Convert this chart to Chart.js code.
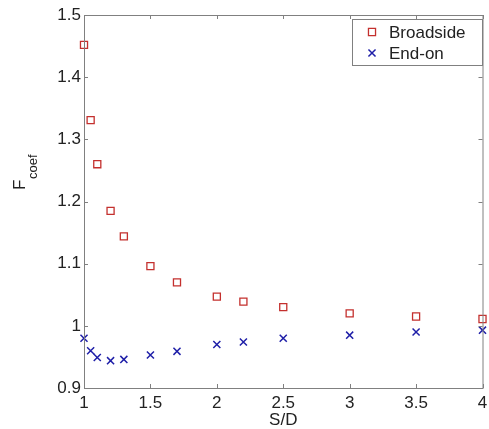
<!DOCTYPE html>
<html>
<head>
<meta charset="utf-8">
<script src="https://cdn.jsdelivr.net/npm/chart.js@4/dist/chart.umd.min.js"></script>
<style>
  body { margin: 0; background: #fff; }
  #wrap { width: 489px; height: 429px; }
</style>
</head>
<body>
<div id="wrap"><canvas id="fcoef" width="489" height="429"></canvas></div>
<script>
// data
const sdValues = [1, 1.05, 1.1, 1.2, 1.3, 1.5, 1.7, 2, 2.2, 2.5, 3, 3.5, 4];
const broadside = [1.452, 1.331, 1.260, 1.185, 1.144, 1.096, 1.070, 1.047, 1.039, 1.030, 1.020, 1.015, 1.011];
const endOn = [0.980, 0.960, 0.949, 0.944, 0.946, 0.953, 0.959, 0.970, 0.974, 0.980, 0.985, 0.990, 0.993];

const xTicks = [1, 1.5, 2, 2.5, 3, 3.5, 4];
const xTickLabels = ['1', '1.5', '2', '2.5', '3', '3.5', '4'];
const yTicks = [0.9, 1, 1.1, 1.2, 1.3, 1.4, 1.5];
const yTickLabels = ['0.9', '1', '1.1', '1.2', '1.3', '1.4', '1.5'];

const FONT = '"Liberation Sans", Arial, sans-serif';
const RED = '#c4302e';
const BLUE = '#1f1fa8';
const AXIS = '#808080';

function pts(ys) {
  return sdValues.map((x, i) => ({ x: x, y: ys[i] }));
}

// box, inward ticks, axis titles and legend
const frame = {
  id: 'frame',
  afterDraw(chart) {
    const ctx = chart.ctx;
    const a = chart.chartArea;
    const xs = chart.scales.x, ys = chart.scales.y;
    ctx.save();
    ctx.strokeStyle = AXIS;
    ctx.lineWidth = 1;
    ctx.strokeRect(a.left + 0.5, a.top + 0.5, a.right - a.left, a.bottom - a.top);
    ctx.beginPath();
    xTicks.forEach(v => {
      const px = Math.round(xs.getPixelForValue(v)) + 0.5;
      ctx.moveTo(px, a.bottom); ctx.lineTo(px, a.bottom - 4);
      ctx.moveTo(px, a.top); ctx.lineTo(px, a.top + 4);
    });
    yTicks.forEach(v => {
      const py = Math.round(ys.getPixelForValue(v)) + 0.5;
      ctx.moveTo(a.left, py); ctx.lineTo(a.left + 4, py);
      ctx.moveTo(a.right, py); ctx.lineTo(a.right - 4, py);
    });
    ctx.stroke();

    // x title
    ctx.fillStyle = '#222';
    ctx.font = '17px ' + FONT;
    ctx.textAlign = 'center';
    ctx.textBaseline = 'alphabetic';
    ctx.fillText('S/D', (a.left + a.right) / 2, 425);

    // y title F_coef
    ctx.save();
    ctx.translate(25, 190);
    ctx.rotate(-Math.PI / 2);
    ctx.textAlign = 'left';
    ctx.font = '17px ' + FONT;
    ctx.fillText('F', 0, 0);
    ctx.font = '13px ' + FONT;
    ctx.fillText('coef', 11, 12);
    ctx.restore();

    // legend
    const lx = 352, ly = 19, lw = 130, lh = 46;
    ctx.fillStyle = '#fff';
    ctx.fillRect(lx, ly, lw, lh);
    ctx.strokeStyle = AXIS;
    ctx.strokeRect(lx + 0.5, ly + 0.5, lw, lh);
    const rows = [
      { label: 'Broadside', y: 32, style: 'rect', color: RED, w: 1.3 },
      { label: 'End-on', y: 53, style: 'crossRot', color: BLUE, w: 1.5 }
    ];
    rows.forEach(r => {
      ctx.strokeStyle = r.color;
      ctx.fillStyle = 'rgba(0,0,0,0)';
      ctx.lineWidth = r.w;
      Chart.helpers.drawPoint(ctx, { pointStyle: r.style, radius: 5, borderWidth: r.w, rotation: 0 }, 372, r.y);
      ctx.fillStyle = '#222';
      ctx.font = '17px ' + FONT;
      ctx.textAlign = 'left';
      ctx.textBaseline = 'middle';
      ctx.fillText(r.label, 389, r.y + 1);
    });
    ctx.restore();
  }
};

new Chart(document.getElementById('fcoef'), {
  type: 'scatter',
  data: {
    datasets: [
      {
        label: 'Broadside',
        data: pts(broadside),
        pointStyle: 'rect',
        pointRadius: 5,
        pointHoverRadius: 5,
        borderColor: RED,
        backgroundColor: 'rgba(0,0,0,0)',
        pointBorderWidth: 1.3,
        clip: false
      },
      {
        label: 'End-on',
        data: pts(endOn),
        pointStyle: 'crossRot',
        pointRadius: 5,
        pointHoverRadius: 5,
        borderColor: BLUE,
        backgroundColor: BLUE,
        pointBorderWidth: 1.5,
        clip: false
      }
    ]
  },
  options: {
    responsive: false,
    animation: false,
    layout: { padding: { top: 15, right: 3, left: 0, bottom: 0 } },
    plugins: { legend: { display: false }, tooltip: { enabled: false } },
    scales: {
      x: {
        type: 'linear',
        min: 1, max: 4,
        afterBuildTicks: s => { s.ticks = xTicks.map(v => ({ value: v })); },
        afterFit: s => { s.height = 41; s.paddingLeft = 0; s.paddingRight = 0; },
        grid: { display: false, drawTicks: false },
        border: { display: false },
        ticks: {
          padding: 5,
          color: '#222',
          font: { family: FONT, size: 17 },
          maxRotation: 0,
          callback: (v, i) => xTickLabels[i]
        }
      },
      y: {
        type: 'linear',
        min: 0.9, max: 1.5,
        afterBuildTicks: s => { s.ticks = yTicks.map(v => ({ value: v })); },
        afterFit: s => { s.width = 84; s.paddingTop = 0; s.paddingBottom = 0; },
        grid: { display: false, drawTicks: false },
        border: { display: false },
        ticks: {
          padding: 3,
          color: '#222',
          font: { family: FONT, size: 17 },
          callback: (v, i) => yTickLabels[i]
        }
      }
    }
  },
  plugins: [frame]
});
</script>
</body>
</html>
